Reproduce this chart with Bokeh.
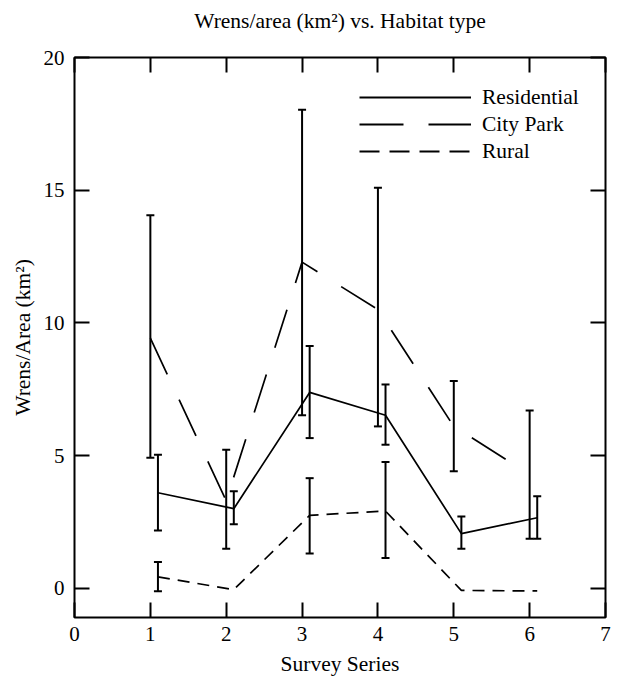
from bokeh.plotting import figure
from bokeh.models import (Range1d, FixedTicker, LinearAxis, Whisker, TeeHead,
                          ColumnDataSource, Legend, LegendItem, CustomJSTickFormatter)
from bokeh.embed import file_html
from bokeh.resources import INLINE

# ---- data ----
x_ticks = [0, 1, 2, 3, 4, 5, 6, 7]
y_ticks = [0, 5, 10, 15, 20]

res_x = [1.1, 2.1, 3.1, 4.1, 5.1, 6.1]
res_y = [3.6, 3.0, 7.38, 6.52, 2.06, 2.66]
res_upper = [5.03, 3.66, 9.13, 7.68, 2.71, 3.47]
res_lower = [2.18, 2.41, 5.66, 5.41, 1.49, 1.87]

park_x = [1, 2, 3, 4, 5, 6]
park_y = [9.43, 3.3, 12.29, 10.5, 6.1, 4.29]
park_upper = [14.06, 5.22, 18.03, 15.09, 7.81, 6.70]
park_lower = [4.92, 1.49, 6.52, 6.10, 4.41, 1.87]

rural_x = [1.1, 2.1, 3.1, 4.1, 5.1, 6.1]
rural_y = [0.43, -0.05, 2.75, 2.91, -0.08, -0.1]
rural_err_x = [1.1, 3.1, 4.1]
rural_upper = [0.99, 4.15, 4.76]
rural_lower = [-0.11, 1.31, 1.14]

TITLE = "Wrens/area (km²) vs. Habitat type"
FONT = "Liberation Serif"
TXT = "21.5px"

p = figure(frame_width=531, frame_height=560,
           min_border_left=74, min_border_right=12,
           min_border_top=57, min_border_bottom=62,
           x_range=Range1d(0, 7), y_range=Range1d(-1.1, 20),
           title=None,
           output_backend="svg", toolbar_location=None,
           background_fill_color="white", border_fill_color="white")

p.outline_line_color = "black"
p.outline_line_width = 2
p.outline_line_alpha = 1
p.xgrid.visible = False
p.ygrid.visible = False

def style_axis(ax, ticks, labels=True):
    ax.ticker = FixedTicker(ticks=ticks)
    ax.major_tick_in = 15
    ax.major_tick_out = 0
    ax.major_tick_line_width = 2
    ax.major_tick_line_color = "black"
    ax.minor_tick_line_color = None
    ax.axis_line_color = None
    ax.axis_label_text_font = FONT
    ax.axis_label_text_font_size = TXT
    ax.axis_label_text_font_style = "normal"
    ax.axis_label_text_color = "black"
    if labels:
        ax.major_label_text_font = FONT
        ax.major_label_text_font_size = "21px"
        ax.major_label_text_color = "black"
    else:
        ax.formatter = CustomJSTickFormatter(code="return ''")
        ax.major_label_text_font_size = "0px"
        ax.major_label_standoff = 0
        ax.axis_label_standoff = 0

style_axis(p.xaxis[0], x_ticks)
p.xaxis[0].axis_label = "Survey Series"
p.xaxis[0].major_label_standoff = 9
p.xaxis[0].axis_label_standoff = 8

style_axis(p.yaxis[0], y_ticks)
p.yaxis[0].axis_label = "Wrens/Area (km²)"
p.yaxis[0].major_label_standoff = 10
p.yaxis[0].axis_label_standoff = 6

# top axis: mirrored inward ticks, carries the chart title as its label
top_ax = LinearAxis()
style_axis(top_ax, x_ticks, labels=False)
top_ax.axis_label = TITLE
top_ax.axis_label_standoff = 25
p.add_layout(top_ax, "above")

right_ax = LinearAxis()
style_axis(right_ax, y_ticks, labels=False)
p.add_layout(right_ax, "right")

# ---- lines ----
p.line(res_x, res_y, line_color="black", line_width=1.7)
p.line(park_x, park_y, line_color="black", line_width=1.7, line_dash="40 28")
p.line(rural_x, rural_y, line_color="black", line_width=1.7, line_dash="12 8")

def add_err(xs, up, lo):
    src = ColumnDataSource(dict(x=xs, upper=up, lower=lo))
    w = Whisker(source=src, base="x", upper="upper", lower="lower",
                line_color="black", line_width=2,
                upper_head=TeeHead(size=8, line_width=2, line_color="black"),
                lower_head=TeeHead(size=8, line_width=2, line_color="black"))
    p.add_layout(w)

add_err(res_x, res_upper, res_lower)
add_err(park_x, park_upper, park_lower)
add_err(rural_err_x, rural_upper, rural_lower)

# ---- legend (proxy renderers carrying the legend's dash styles) ----
nan = float("nan")
l1 = p.line([nan], [nan], line_color="black", line_width=2)
l2 = p.line([nan], [nan], line_color="black", line_width=2, line_dash="44 25")
l3 = p.line([nan], [nan], line_color="black", line_width=2, line_dash="20 10")
legend = Legend(items=[LegendItem(label="Residential", renderers=[l1]),
                       LegendItem(label="City Park", renderers=[l2]),
                       LegendItem(label="Rural", renderers=[l3])],
                location=(285, 453), glyph_width=112, glyph_height=26,
                label_height=26, spacing=1, padding=0, margin=0,
                label_standoff=11, border_line_color=None,
                background_fill_alpha=0,
                label_text_font=FONT, label_text_font_size=TXT,
                label_text_color="black")
p.add_layout(legend)

open("out.html", "w").write(file_html(p, INLINE))
